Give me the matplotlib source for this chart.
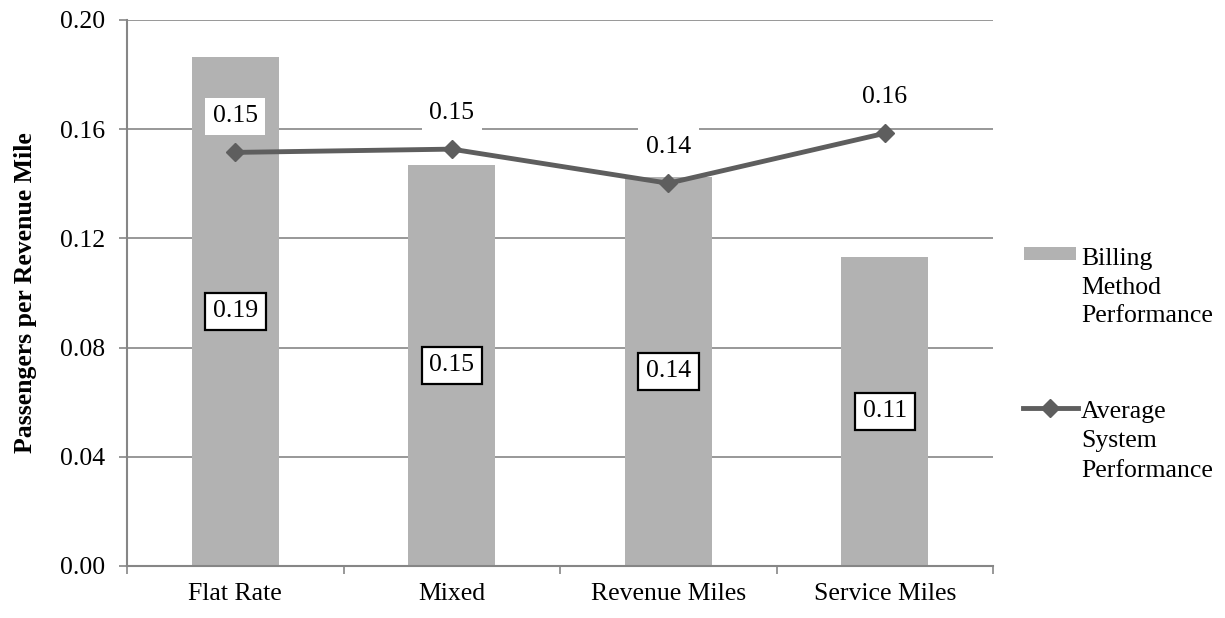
import matplotlib
matplotlib.use("Agg")
import matplotlib.pyplot as plt
from matplotlib.patches import Rectangle
from matplotlib.lines import Line2D
import numpy as np

categories = ["Flat Rate", "Mixed", "Revenue Miles", "Service Miles"]
billing_values = [0.1865, 0.147, 0.1426, 0.1133]
average_values = [0.1515, 0.1527, 0.1402, 0.1585]
billing_labels = ["0.19", "0.15", "0.14", "0.11"]
average_labels = ["0.15", "0.15", "0.14", "0.16"]
yticks = [0.00, 0.04, 0.08, 0.12, 0.16, 0.20]

plt.rcParams['font.family'] = ['Liberation Serif', 'DejaVu Serif']
FS = 18.5

fig = plt.figure(figsize=(12.25, 6.18), dpi=100)
ax = fig.add_axes([127/1225, 1-566/618, (993-127)/1225, (566-20)/618])

x = np.arange(len(categories))
bar_color = "#B2B2B2"
line_color = "#5E5E5E"
grid_color = "#868686"

ax.bar(x, billing_values, width=0.4, color=bar_color, zorder=2)
ax.plot(x, average_values, color=line_color, lw=3.5, marker="D", ms=9,
        markerfacecolor=line_color, markeredgecolor=line_color, zorder=4)

ax.set_xlim(-0.5, 3.5)
ax.set_ylim(0, 0.20)
ax.set_yticks(yticks)
ax.set_yticklabels([f"{v:.2f}" for v in yticks], fontsize=FS)
ax.yaxis.grid(True, color=grid_color, lw=1.2, zorder=0)
ax.set_axisbelow(True)

ax.set_xticks(x)
ax.set_xticklabels(categories, fontsize=FS)
ax.set_xticks(np.arange(-0.5, 4.0, 1.0), minor=True)
ax.tick_params(axis="x", which="major", length=0, pad=12)
ax.tick_params(axis="x", which="minor", length=6, direction="out", color=grid_color, width=1.2)
ax.tick_params(axis="y", length=6, direction="out", color=grid_color, width=1.2, pad=10)

for s in ["top", "right"]:
    ax.spines[s].set_visible(False)
for s in ["left", "bottom"]:
    ax.spines[s].set_color(grid_color)
    ax.spines[s].set_linewidth(1.5)

ax.set_ylabel("Passengers per Revenue Mile", fontsize=FS, fontweight="bold", va="center")
ax.yaxis.set_label_coords((26-127)/866, 0.5)

for xi, v, lab in zip(x, billing_values, billing_labels):
    ax.text(xi, v/2, lab, ha="center", va="center", fontsize=FS, zorder=5,
            bbox=dict(boxstyle="square,pad=0.3", facecolor="white", edgecolor="black", lw=1.6))

for xi, v, lab in zip(x, average_values, average_labels):
    ax.annotate(lab, (xi, v), xytext=(0, 26), textcoords="offset points",
                ha="center", va="center", fontsize=FS, zorder=5,
                bbox=dict(boxstyle="square,pad=0.3", facecolor="white", edgecolor="none"))

# legend drawn manually
def fx(px): return px/1225
def fy(py): return 1-py/618
fig.patches.append(Rectangle((fx(1024), fy(260)), fx(1076)-fx(1024), fy(247)-fy(260),
                             transform=fig.transFigure, facecolor=bar_color, edgecolor="none"))
fig.text(fx(1081), fy(322), "Billing\nMethod\nPerformance", fontsize=FS, va="baseline", ha="left",
         linespacing=1.38)
fig.lines.append(Line2D([fx(1023), fx(1078)], [fy(408), fy(408)], transform=fig.transFigure,
                        color=line_color, lw=3.5))
fig.lines.append(Line2D([fx(1050)], [fy(408)], transform=fig.transFigure,
                        color=line_color, marker="D", ms=9, lw=0))
fig.text(fx(1081), fy(477), "Average\nSystem\nPerformance", fontsize=FS, va="baseline", ha="left",
         linespacing=1.45)

fig.savefig("out.png", dpi=100)
